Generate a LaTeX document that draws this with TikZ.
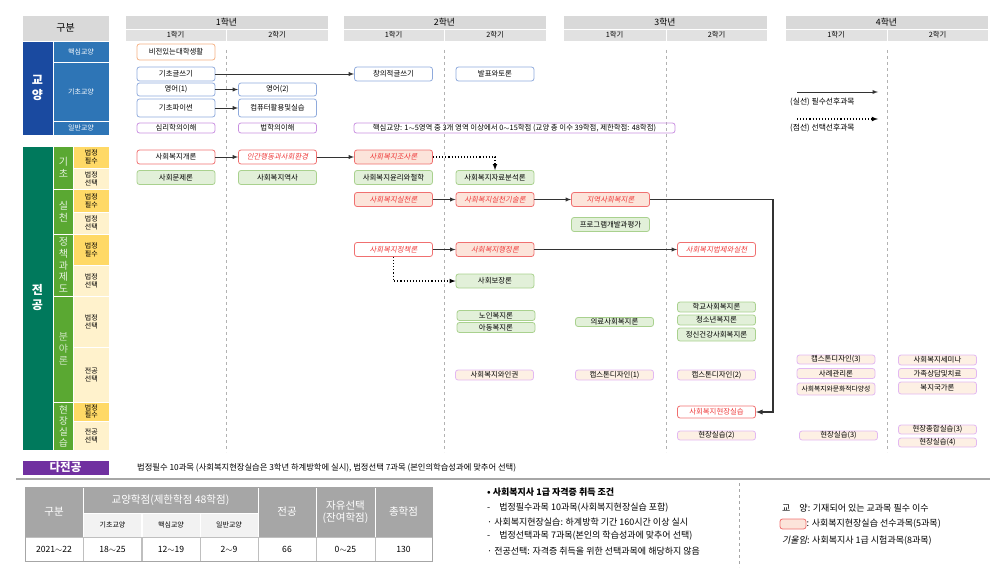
\documentclass[tikz,border=0pt]{standalone}
\usepackage{fontspec}
\setmainfont{Noto Sans CJK KR}[AutoFakeSlant=0.2]
\usepackage{xcolor}
\usepackage{tikz}
\usetikzlibrary{arrows}
\usetikzlibrary{positioning}

\definecolor{gyoblue}{HTML}{1A4AA0}
\definecolor{subblue}{HTML}{2E75B6}
\definecolor{jeongreen}{HTML}{00795C}
\definecolor{subgreen}{HTML}{5AA832}
\definecolor{reqyellow}{HTML}{FFD966}
\definecolor{optyellow}{HTML}{FFF2CC}
\definecolor{hdgray}{HTML}{D9D9D9}
\definecolor{bdblue}{HTML}{8FAADC}
\definecolor{bdorange}{HTML}{F4B183}
\definecolor{bdpurple}{HTML}{C990E0}
\definecolor{bdred}{HTML}{F07070}
\definecolor{txred}{HTML}{EE3B3B}
\definecolor{fillpink}{HTML}{FCE4DA}
\definecolor{bdgreen}{HTML}{A9D18E}
\definecolor{fillgreen}{HTML}{E2F0D9}
\definecolor{bdlav}{HTML}{E2B8F2}
\definecolor{fillpeach}{HTML}{FDF0E4}
\definecolor{dajeon}{HTML}{7030A0}
\definecolor{tbgray}{HTML}{A6A6A6}
\definecolor{tblight}{HTML}{F2F2F2}

\newcommand{\fsbox}{\fontsize{7.4}{8.5}\selectfont}
\newcommand{\fsyear}{\fontsize{8.8}{10}\selectfont}
\newcommand{\fssem}{\fontsize{7.3}{8.5}\selectfont}
\newcommand{\fscat}{\fontsize{7}{8.2}\selectfont}
\newcommand{\fsvert}{\fontsize{10}{12.2}\selectfont}
\newcommand{\fslgd}{\fontsize{7.8}{9}\selectfont}
\newcommand{\fsnote}{\fontsize{9}{10.5}\selectfont}
\newcommand{\fsth}{\fontsize{10.5}{12.5}\selectfont}

\begin{document}
\begin{tikzpicture}
      [x=1pt, y=-1pt,
       every node/.style={inner sep=0pt},
       blk/.style={draw=white, line width=0.6pt, align=center},
       crs/.style={draw, rounded corners=2.5pt, line width=0.8pt, minimum width=78pt, minimum height=14pt, font=\fsbox},
       gyobasic/.style={crs, draw=bdblue},
       gyocore/.style={crs, draw=bdorange, minimum height=16pt},
       gyogen/.style={crs, draw=bdpurple, minimum height=10pt},
       mreq/.style={crs, draw=bdred},
       mexam/.style={mreq, text=txred, font=\fsbox\itshape},
       mpre/.style={mexam, fill=fillpink},
       mopt/.style={crs, draw=bdgreen, fill=fillgreen},
       melec/.style={crs, draw=bdlav, fill=fillpeach, minimum height=10pt},
       sol/.style={->, >=latex, line width=0.9pt, black!80},
       dotl/.style={->, >=latex, dotted, line width=1.1pt},
       sem/.style={gray!60, dashed, line width=0.5pt},
       thd/.style={blk, fill=tbgray, text=white, font=\fsth},
       tsub/.style={blk, fill=tblight, font=\fscat, minimum width=58pt, minimum height=24pt},
       tval/.style={draw=gray!50, line width=0.5pt, font=\fontsize{8.6}{10}\selectfont, minimum height=24pt}]
      \useasboundingbox (0,0) rectangle (1008,567);

      % header
      \node (gubun) [blk, fill=hdgray, minimum width=87pt, minimum height=26pt, font=\fontsize{10}{11}\selectfont] at (65.5,28) {구분};
      \node (yr1) [blk, fill=hdgray, minimum width=203pt, minimum height=14pt, font=\fsyear] at (226.5,22) {1학년};
      \node (yr1a) [blk, fill=hdgray!80, minimum width=101pt, minimum height=12pt, font=\fssem] at (175.5,35) {1학기};
      \node (yr1b) [blk, fill=hdgray!80, minimum width=102pt, minimum height=12pt, font=\fssem] at (277,35) {2학기};
      \node (yr2) [blk, fill=hdgray, minimum width=203pt, minimum height=14pt, font=\fsyear] at (444.5,22) {2학년};
      \node (yr2a) [blk, fill=hdgray!80, minimum width=101pt, minimum height=12pt, font=\fssem] at (393.5,35) {1학기};
      \node (yr2b) [blk, fill=hdgray!80, minimum width=102pt, minimum height=12pt, font=\fssem] at (495,35) {2학기};
      \node (yr3) [blk, fill=hdgray, minimum width=204pt, minimum height=14pt, font=\fsyear] at (665,22) {3학년};
      \node (yr3a) [blk, fill=hdgray!80, minimum width=103pt, minimum height=12pt, font=\fssem] at (614.5,35) {1학기};
      \node (yr3b) [blk, fill=hdgray!80, minimum width=101pt, minimum height=12pt, font=\fssem] at (716.5,35) {2학기};
      \node (yr4) [blk, fill=hdgray, minimum width=203pt, minimum height=14pt, font=\fsyear] at (886.5,22) {4학년};
      \node (yr4a) [blk, fill=hdgray!80, minimum width=102pt, minimum height=12pt, font=\fssem] at (836,35) {1학기};
      \node (yr4b) [blk, fill=hdgray!80, minimum width=101pt, minimum height=12pt, font=\fssem] at (937.5,35) {2학기};

      % semester guides
      \draw [sem] (226,50) -- (226,452);
      \draw [sem] (444,50) -- (444,452);
      \draw [sem] (666,50) -- (666,452);
      \draw [sem] (887,50) -- (887,452);

      % left column: 교양
      \node (gyo) [blk, fill=gyoblue, text=white, minimum width=31pt, minimum height=94pt, font=\fontsize{12}{15}\selectfont\bfseries] at (37.5,88) {교\\양};
      \node (gyocorecat) [blk, fill=subblue, text=white, minimum width=56pt, minimum height=21pt, font=\fscat] at (81,51.5) {핵심교양};
      \node (gyobasiccat) [blk, fill=subblue, text=white, minimum width=56pt, minimum height=59pt, font=\fscat] at (81,91.5) {기초교양};
      \node (gyogencat) [blk, fill=subblue, text=white, minimum width=56pt, minimum height=14pt, font=\fscat] at (81,128) {일반교양};

      % left column: 전공
      \node (jeon) [blk, fill=jeongreen, text=white, minimum width=31pt, minimum height=304pt, font=\fontsize{12}{15}\selectfont\bfseries] at (37.5,298) {전\\공};
      \node (gicho) [blk, fill=subgreen, text=white!85!subgreen, minimum width=20pt, minimum height=43pt, font=\fsvert] at (63.5,167.5) {기\\초};
      \node (silcheon) [blk, fill=subgreen, text=white!85!subgreen, minimum width=20pt, minimum height=45pt, font=\fsvert] at (63.5,211.5) {실\\천};
      \node (jedo) [blk, fill=subgreen, text=white!85!subgreen, minimum width=20pt, minimum height=62pt, font=\fontsize{10}{11.6}\selectfont] at (63.5,265) {정\\책\\과\\제\\도};
      \node (bunya) [blk, fill=subgreen, text=white!70!subgreen, minimum width=20pt, minimum height=106pt, font=\fsvert] at (63.5,349) {분\\야\\론};
      \node (hyeon) [blk, fill=subgreen, text=white!85!subgreen, minimum width=20pt, minimum height=48pt, font=\fontsize{9.5}{11}\selectfont] at (63.5,426) {현\\장\\실\\습};

      \node (gichoreq) [blk, fill=reqyellow, minimum width=35.5pt, minimum height=22pt, font=\fscat] at (91.25,157) {법정\\필수};
      \node (gichoopt) [blk, fill=optyellow, minimum width=35.5pt, minimum height=21pt, font=\fscat] at (91.25,178.5) {법정\\선택};
      \node (silreq) [blk, fill=reqyellow, minimum width=35.5pt, minimum height=23pt, font=\fscat] at (91.25,200.5) {법정\\필수};
      \node (silopt) [blk, fill=optyellow, minimum width=35.5pt, minimum height=22pt, font=\fscat] at (91.25,223) {법정\\선택};
      \node (jedoreq) [blk, fill=reqyellow, minimum width=35.5pt, minimum height=31pt, font=\fscat] at (91.25,249.5) {법정\\필수};
      \node (jedoopt) [blk, fill=optyellow, minimum width=35.5pt, minimum height=31pt, font=\fscat] at (91.25,280.5) {법정\\선택};
      \node (bunyaopt) [blk, fill=optyellow, minimum width=35.5pt, minimum height=51pt, font=\fscat] at (91.25,321.5) {법정\\선택};
      \node (bunyael) [blk, fill=optyellow, minimum width=35.5pt, minimum height=55pt, font=\fscat] at (91.25,374.5) {전공\\선택};
      \node (hyeonreq) [blk, fill=reqyellow, minimum width=35.5pt, minimum height=19pt, font=\fontsize{7}{7.6}\selectfont] at (91.25,411.5) {법정\\필수};
      \node (hyeonel) [blk, fill=optyellow, minimum width=35.5pt, minimum height=29pt, font=\fscat] at (91.25,435.5) {전공\\선택};

      % 교양 courses
      \node (vision) [gyocore] at (176,52) {비전있는대학생활};
      \node (writing) [gyobasic] at (176,74) {기초글쓰기};
      \node (eng1) [gyobasic, minimum height=13pt] at (176,89.5) {영어(1)};
      \node (python) [gyobasic, minimum height=18pt] at (176,108) {기초파이썬};
      \node (psych) [gyogen] at (176,128) {심리학의이해};
      \node (eng2) [gyobasic, minimum height=13pt] at (277.5,89.5) {영어(2)};
      \node (computer) [gyobasic, minimum height=18pt] at (277.5,108) {컴퓨터활용및실습};
      \node (law) [gyogen] at (277.5,128) {법학의이해};
      \node (creative) [gyobasic] at (393.5,74) {창의적글쓰기};
      \node (debate) [gyobasic] at (495,74) {발표와토론};
      \node (coregen) [gyogen, minimum width=321pt] at (514.5,128) {핵심교양: 1$\sim$5영역 중 3개 영역 이상에서 0$\sim$15학점 (교양 총 이수 39학점, 제한학점: 48학점)};

      \draw [sol] (writing) -- (creative);
      \draw [sol] (eng1) -- (eng2);
      \draw [sol] (python) -- (computer);

      % 전공 courses
      \node (intro) [mreq] at (176,157) {사회복지개론};
      \node (human) [mexam] at (277.5,157) {인간행동과사회환경};
      \node (research) [mpre] at (393.5,157) {사회복지조사론};
      \node (problem) [mopt] at (176,177.5) {사회문제론};
      \node (history) [mopt] at (277.5,177.5) {사회복지역사};
      \node (ethics) [mopt] at (393.5,177.5) {사회복지윤리와철학};
      \node (analysis) [mopt] at (495,177.5) {사회복지자료분석론};
      \node (practice) [mpre] at (393.5,199.5) {사회복지실천론};
      \node (skills) [mpre] at (495,199.5) {사회복지실천기술론};
      \node (community) [mpre] at (610.5,199.5) {지역사회복지론};
      \node (program) [mopt] at (610.5,224.5) {프로그램개발과평가};
      \node (policy) [mexam] at (393.5,249.5) {사회복지정책론};
      \node (admin) [mpre] at (495,249.5) {사회복지행정론};
      \node (legal) [mexam] at (716.5,249.5) {사회복지법제와실천};
      \node (security) [mopt] at (495,281) {사회보장론};
      \node (elderly) [mopt, minimum height=10pt] at (496,315.5) {노인복지론};
      \node (child) [mopt, minimum height=10pt] at (496,327.5) {아동복지론};
      \node (medical) [mopt, minimum height=9pt] at (614.5,322) {의료사회복지론};
      \node (school) [mopt, minimum height=10pt] at (716.5,307) {학교사회복지론};
      \node (youth) [mopt, minimum height=10pt] at (716.5,320) {청소년복지론};
      \node (mental) [mopt, minimum height=13pt] at (716.5,334.5) {정신건강사회복지론};
      \node (rights) [melec] at (494.5,375) {사회복지와인권};
      \node (cap1) [melec] at (614.5,375) {캡스톤디자인(1)};
      \node (cap2) [melec] at (716.5,375) {캡스톤디자인(2)};
      \node (cap3) [melec, minimum height=9pt] at (836,359.5) {캡스톤디자인(3)};
      \node (casemgmt) [melec] at (836,373.5) {사례관리론};
      \node (culture) [melec, minimum height=12pt, font=\fontsize{6.8}{8}\selectfont] at (836,389) {사회복지와문화적다양성};
      \node (seminar) [melec] at (937.5,360) {사회복지세미나};
      \node (family) [melec] at (937.5,373.5) {가족상담및치료};
      \node (welfare) [melec, minimum height=12pt] at (937.5,388) {복지국가론};
      \node (fieldwork) [mreq, text=txred, minimum height=12pt] at (716.5,412) {사회복지현장실습};
      \node (field2) [melec, minimum height=9pt] at (716.5,435.5) {현장실습(2)};
      \node (field3) [melec, minimum height=9pt] at (838.5,435.5) {현장실습(3)};
      \node (fieldsum) [melec, minimum height=9pt] at (937.5,429.5) {현장종합실습(3)};
      \node (field4) [melec, minimum height=9pt] at (937.5,442.5) {현장실습(4)};

      \coordinate (turn) at (773,199.5);
      \draw [sol] (intro) -- (human);
      \draw [sol] (human) -- (research);
      \draw [dotl] (research) -| (analysis);
      \draw [sol] (practice) -- (skills);
      \draw [sol] (skills) -- (community);
      \draw [sol, line width=1.3pt] (community) -- (turn) |- (fieldwork);
      \draw [sol] (policy) -- (admin);
      \draw [sol] (admin) -- (legal);
      \draw [dotl] (policy) |- (security);

      % legend (top right)
      \coordinate (solA) at (797,92);
      \coordinate (solB) at (878,92);
      \coordinate (dotA) at (797,119);
      \coordinate (dotB) at (878,119);
      \draw [sol] (solA) -- (solB);
      \draw [dotl] (dotA) -- (dotB);
      \node (sollbl) [anchor=west, font=\fslgd] at (790,102) {(실선) 필수선후과목};
      \node (dotlbl) [anchor=west, font=\fslgd] at (790,128) {(점선) 선택선후과목};

      % 다전공
      \node (multi) [blk, fill=dajeon, text=white, minimum width=87pt, minimum height=15pt, font=\fontsize{11.5}{12}\selectfont\bfseries] at (65.5,467.5) {다전공};
      \node (multinote) [anchor=west, font=\fontsize{8.3}{9.5}\selectfont] at (137,467.5) {법정필수 10과목 (사회복지현장실습은 3학년 하계방학에 실시), 법정선택 7과목 (본인의학습성과에 맞추어 선택)};
      \draw [tbgray, line width=2pt] (16,479) -- (990,479);

      % credit table
      \node (tgubun) [thd, minimum width=58pt, minimum height=50pt] at (54,512) {구분};
      \node (tgyo) [thd, minimum width=175pt, minimum height=26pt] at (170.5,500) {교양학점(제한학점 48학점)};
      \node (tbasic) [tsub] at (112.5,525) {기초교양};
      \node (tcore) [tsub] at (171,525) {핵심교양};
      \node (tgen) [tsub] at (229,525) {일반교양};
      \node (tmajor) [thd, minimum width=58pt, minimum height=50pt] at (287,512) {전공};
      \node (tfree) [thd, minimum width=59pt, minimum height=50pt] at (345.5,512) {자유선택\\(잔여학점)};
      \node (ttotal) [thd, minimum width=57pt, minimum height=50pt] at (403.5,512) {총학점};
      \node (vyear) [tval, minimum width=58pt] at (54,549) {2021$\sim$22};
      \node (vbasic) [tval, minimum width=58pt] at (112.5,549) {18$\sim$25};
      \node (vcore) [tval, minimum width=58pt] at (171,549) {12$\sim$19};
      \node (vgen) [tval, minimum width=58pt] at (229,549) {2$\sim$9};
      \node (vmajor) [tval, minimum width=58pt] at (287,549) {66};
      \node (vfree) [tval, minimum width=59pt] at (345.5,549) {0$\sim$25};
      \node (vtotal) [tval, minimum width=57pt] at (403.5,549) {130};
      \draw [gray!70, line width=0.6pt] (25,487) rectangle (432,561);

      % conditions
      \node (cond) [anchor=west, font=\fsnote\bfseries] at (487,492) {• 사회복지사 1급 자격증 취득 조건};
      \node (cond1) [anchor=west, font=\fsnote] at (487,508) {-\quad 법정필수과목 10과목(사회복지현장실습 포함)};
      \node (cond2) [anchor=west, font=\fsnote] at (487,522) {· 사회복지현장실습: 하계방학 기간 160시간 이상 실시};
      \node (cond3) [anchor=west, font=\fsnote] at (487,536) {-\quad 법정선택과목 7과목(본인의 학습성과에 맞추어 선택)};
      \node (cond4) [anchor=west, font=\fsnote] at (487,551) {· 전공선택: 자격증 취득을 위한 선택과목에 해당하지 않음};
      \draw [gray!70, dashed, line width=0.6pt] (739,483) -- (739,567);

      % legend (bottom right)
      \node (lgyo) [anchor=west, font=\fsnote] at (782,508) {교\quad 양: 기재되어 있는 교과목 필수 이수};
      \node (lpre) [mpre, minimum width=26pt, minimum height=10pt] at (793,524) {};
      \node (lprelbl) [anchor=west, font=\fsnote] at (lpre.east) {: 사회복지현장실습 선수과목(5과목)};
      \node (lexam) [anchor=west, font=\fsnote] at (782,541) {{\itshape 기울임}: 사회복지사 1급 시험과목(8과목)};

    \end{tikzpicture}
\end{document}
